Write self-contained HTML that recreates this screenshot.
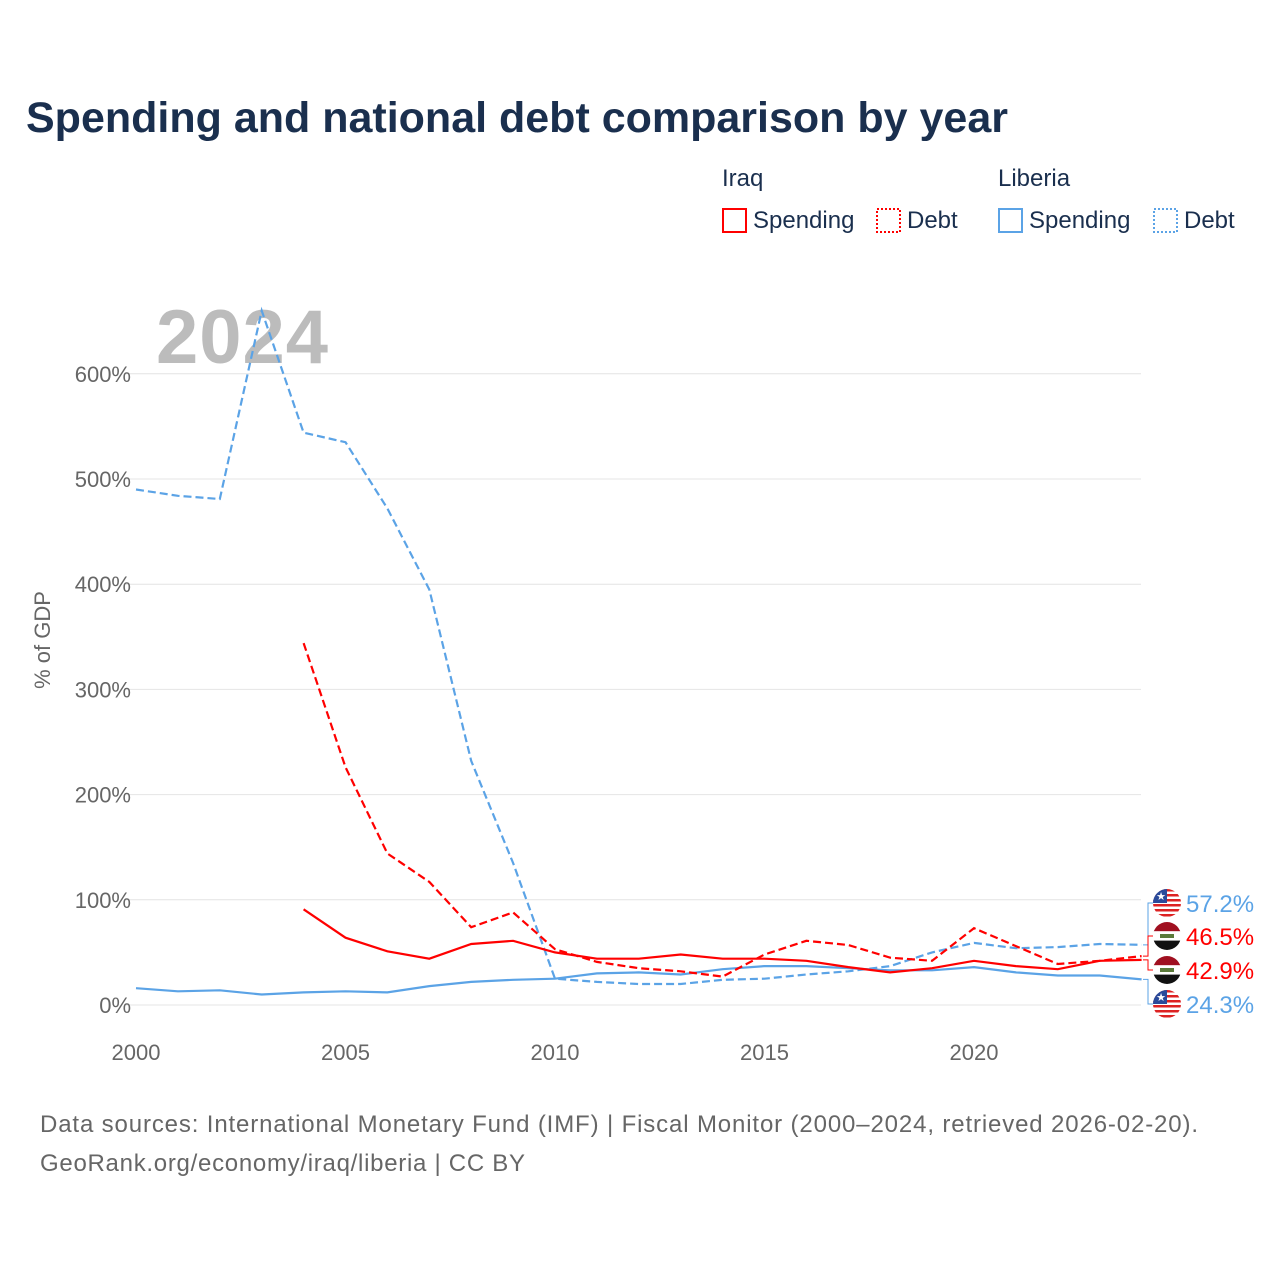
<!DOCTYPE html>
<html><head><meta charset="utf-8"><style>
body{margin:0;background:#fff;font-family:"Liberation Sans",sans-serif;}
svg text{font-family:"Liberation Sans",sans-serif;}
</style></head><body>
<svg width="1280" height="1280" id="chart">
<text x="26" y="132" font-size="43" font-weight="bold" fill="#1a2f4e">Spending and national debt comparison by year</text>
<g font-size="24" fill="#1a2f4e">
<text x="722" y="186" fill="#1a2f4e">Iraq</text>
<text x="998" y="186" fill="#1a2f4e">Liberia</text>
<g><rect x="723" y="209" width="23" height="23" fill="none" stroke="red" stroke-width="2"/><text x="753" y="228" fill="#1a2f4e">Spending</text></g>
<g><rect x="877" y="209" width="23" height="23" fill="none" stroke="red" stroke-width="2" stroke-dasharray="2,2"/><text x="907" y="228" fill="#1a2f4e">Debt</text></g>
<g><rect x="999" y="209" width="23" height="23" fill="none" stroke="#5ba3e6" stroke-width="2"/><text x="1029" y="228" fill="#1a2f4e">Spending</text></g>
<g><rect x="1154" y="209" width="23" height="23" fill="none" stroke="#5ba3e6" stroke-width="2" stroke-dasharray="2,2"/><text x="1184" y="228" fill="#1a2f4e">Debt</text></g>
</g>
<text x="156" y="363" font-size="76" font-weight="bold" fill="#bcbcbc" textLength="172">2024</text>
<g id="grid"></g><g id="series"></g><g id="endlabels"></g>
<text transform="translate(50,640) rotate(-90)" text-anchor="middle" font-size="22" fill="#666">% of GDP</text>
<text x="40" y="1132" font-size="24" fill="#666" textLength="1158">Data sources: International Monetary Fund (IMF) | Fiscal Monitor (2000–2024, retrieved 2026-02-20).</text>
<text x="40" y="1171" font-size="24" fill="#666" textLength="485">GeoRank.org/economy/iraq/liberia | CC BY</text>
</svg>
<script>
const years=[2000,2001,2002,2003,2004,2005,2006,2007,2008,2009,2010,2011,2012,2013,2014,2015,2016,2017,2018,2019,2020,2021,2022,2023,2024];
const liberiaDebt=[490,484,481,660,544,535,472,395,232,135,25,22,20,20,24,25,29,32,37,50,59,54,55,58,57.2];
const liberiaSpending=[16,13,14,10,12,13,12,18,22,24,25,30,31,29,34,37,37,35,33,33,36,31,28,28,24.3];
const iraqDebt=[null,null,null,null,344,226,144,117,74,88,53,41,35,32,27,48,61,57,45,42,73,56,39,42,46.5];
const iraqSpending=[null,null,null,null,91,64,51,44,58,61,50,44,44,48,44,44,42,36,31,35,42,37,34,42,42.9];
const yTicks=[0,100,200,300,400,500,600];
const xTicks=[2000,2005,2010,2015,2020];
const ns="http://www.w3.org/2000/svg";
const X=y=>136+(y-2000)*41.9, Y=v=>1005-v*1.052;
function mk(t,a,p){const e=document.createElementNS(ns,t);for(const k in a)e.setAttribute(k,a[k]);p.appendChild(e);return e;}
const grid=document.getElementById('grid');
yTicks.forEach(v=>{
 const l=mk('line',{x1:126,x2:1141,y1:Y(v),y2:Y(v),stroke:'#e4e4e4','stroke-width':1},grid);
 
 
 const t=mk('text',{x:131,y:Y(v)+8,'text-anchor':'end','font-size':22,fill:'#666'},grid);t.textContent=v+'%';
 
 
});
xTicks.forEach(v=>{
 const t=mk('text',{x:X(v),y:1060,'text-anchor':'middle','font-size':22,fill:'#666'},grid);t.textContent=v;
 
 
});
const ser=document.getElementById('series');
function line(vals,col,dash,name){
 let d='';vals.forEach((v,i)=>{if(v==null)return;d+=(d?'L':'M')+X(years[i]).toFixed(1)+','+Y(v).toFixed(1);});
 const p=mk('path',{d:d,fill:'none',stroke:col,'stroke-width':2.2},ser);
 if(dash)p.setAttribute('stroke-dasharray','8,4');
 
 
}
line(liberiaSpending,'#5ba3e6',false,'line-liberia-spending');
line(liberiaDebt,'#5ba3e6',true,'line-liberia-debt');
line(iraqSpending,'red',false,'line-iraq-spending');
line(iraqDebt,'red',true,'line-iraq-debt');
const el=document.getElementById('endlabels');
const labels=[[liberiaDebt[24],903,'#5ba3e6','lib'],[iraqDebt[24],936,'red','irq'],[iraqSpending[24],970,'red','irq'],[liberiaSpending[24],1004,'#5ba3e6','lib']];
const defs=mk('defs',{},document.getElementById('chart'));
labels.forEach(([v,ly,col,fl],i)=>{
 const yv=Y(v);
 mk('path',{d:`M1143,${yv}H1148V${ly}H1153`,fill:'none',stroke:col,'stroke-width':1},el);
 const cp=mk('clipPath',{id:'fc'+i},defs);
 mk('circle',{cx:1167,cy:ly,r:14},cp);
 const g=mk('g',{'clip-path':'url(#fc'+i+')'},el);
 
 
 if(fl==='lib'){
  mk('rect',{x:1153,y:ly-14,width:28,height:28,fill:'#fff'},g);
  for(let k=0;k<6;k++)mk('rect',{x:1153,y:ly-14+k*5,width:28,height:2.5,fill:'#d22'},g);
  mk('rect',{x:1153,y:ly-14,width:14,height:14,fill:'#2a4a9a'},g);
  mk('text',{x:1161,y:ly-3,'font-size':11,fill:'#fff','text-anchor':'middle'},g).textContent='★';
 }else{
  mk('rect',{x:1153,y:ly-14,width:28,height:9.3,fill:'#a01020'},g);
  mk('rect',{x:1153,y:ly-4.7,width:28,height:9.3,fill:'#fff'},g);
  mk('rect',{x:1153,y:ly+4.6,width:28,height:9.4,fill:'#111'},g);
  mk('rect',{x:1160,y:ly-2,width:14,height:4,fill:'#5a7a3a'},g);
 }
 const t=mk('text',{x:1186,y:ly+9,'font-size':24,fill:col},el);t.textContent=v.toFixed(1)+'%';
 
 
});
</script>
</body></html>
